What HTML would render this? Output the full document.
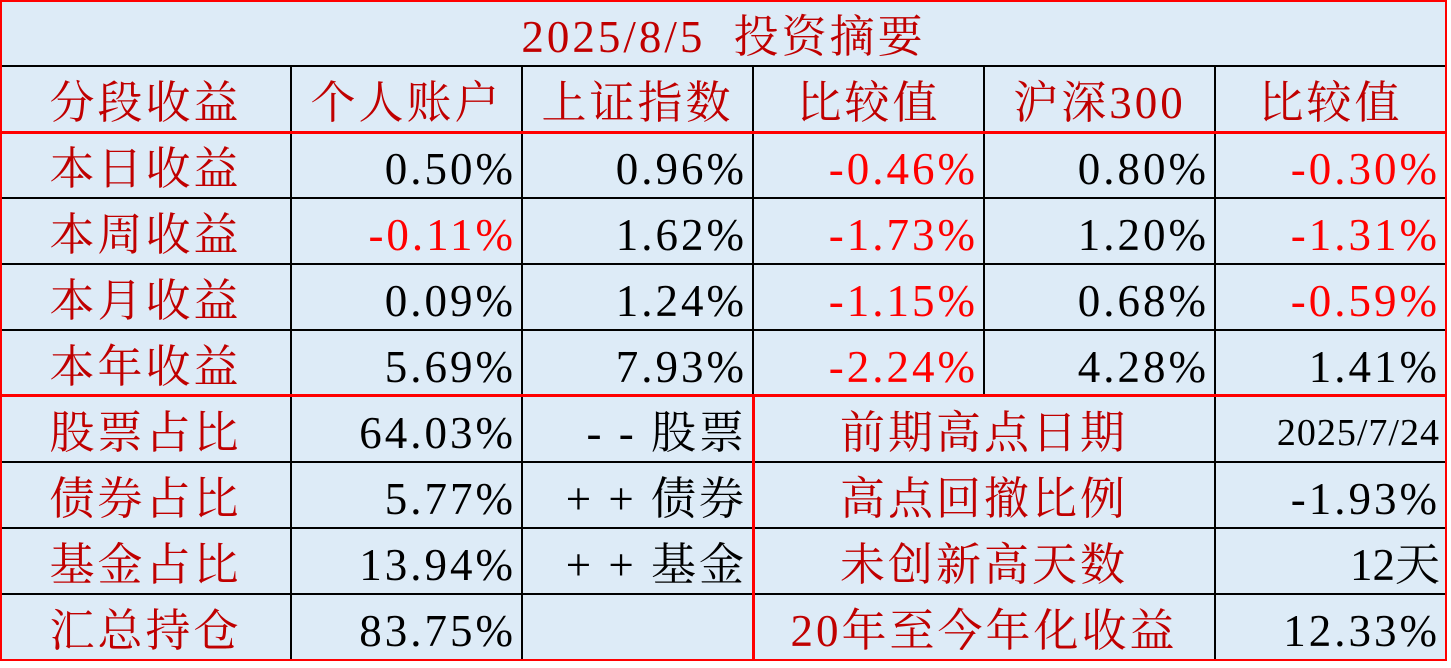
<!DOCTYPE html>
<html><head><meta charset="utf-8"><style>
body{margin:0;width:1451px;height:668px;background:#fff;position:relative;overflow:hidden}
#t{position:absolute;left:0;top:0;width:1447px;height:661px;background:#ddebf7}
.c{position:absolute;height:66px;line-height:74px;font-size:45px;white-space:nowrap;box-sizing:border-box;font-family:"Liberation Serif","Noto Serif CJK SC","Noto Serif CJK JP",serif;letter-spacing:3px}
.l{text-align:center;color:#c00000;letter-spacing:3px}
.r{text-align:right;padding-right:6px;color:#000}
.n{color:#ff0000}
.h{position:absolute;background:#000;height:2px}
.v{position:absolute;background:#000;width:2px}
.R{background:#f00}
</style></head><body><div id="t">
<div class="c l" style="left:0;top:0;width:1447px;word-spacing:14px">2025/8/5 投资摘要</div>
<div class="h" style="left:0;top:65px;width:1447px"></div>
<div class="h" style="left:0;top:197px;width:1447px"></div>
<div class="h" style="left:0;top:263px;width:1447px"></div>
<div class="h" style="left:0;top:329px;width:1447px"></div>
<div class="h" style="left:0;top:461px;width:1447px"></div>
<div class="h" style="left:0;top:527px;width:1447px"></div>
<div class="h" style="left:0;top:593px;width:1447px"></div>
<div class="v" style="left:290px;top:66px;height:595px"></div>
<div class="v" style="left:521px;top:66px;height:595px"></div>
<div class="v" style="left:983px;top:66px;height:330px"></div>
<div class="v" style="left:1214px;top:66px;height:595px"></div>
<div class="v" style="left:752px;top:66px;height:595px;width:2px"></div>
<div class="v R" style="left:752px;top:396px;height:265px;width:3px"></div>
<div class="h R" style="left:0;top:131px;width:1447px;height:3px"></div>
<div class="h R" style="left:0;top:394px;width:1447px;height:3px"></div>
<div class="h R" style="left:0;top:0;width:1447px;height:2px"></div>
<div class="h R" style="left:0;top:659px;width:1447px;height:2px"></div>
<div class="v R" style="left:0;top:0;height:661px"></div>
<div class="v R" style="left:1445px;top:0;height:661px"></div>

<div class="c l" style="left:0;top:66px;width:291px">分段收益</div>
<div class="c l" style="left:291px;top:66px;width:231px">个人账户</div>
<div class="c l" style="left:522px;top:66px;width:231px">上证指数</div>
<div class="c l" style="left:753px;top:66px;width:231px">比较值</div>
<div class="c l" style="left:984px;top:66px;width:231px">沪深300</div>
<div class="c l" style="left:1215px;top:66px;width:231px">比较值</div>

<div class="c l" style="left:0;top:132px;width:291px">本日收益</div>
<div class="c r" style="left:291px;top:132px;width:231px">0.50%</div>
<div class="c r" style="left:522px;top:132px;width:231px">0.96%</div>
<div class="c r n" style="left:753px;top:132px;width:231px">-0.46%</div>
<div class="c r" style="left:984px;top:132px;width:231px">0.80%</div>
<div class="c r n" style="left:1215px;top:132px;width:231px">-0.30%</div>

<div class="c l" style="left:0;top:198px;width:291px">本周收益</div>
<div class="c r n" style="left:291px;top:198px;width:231px">-0.11%</div>
<div class="c r" style="left:522px;top:198px;width:231px">1.62%</div>
<div class="c r n" style="left:753px;top:198px;width:231px">-1.73%</div>
<div class="c r" style="left:984px;top:198px;width:231px">1.20%</div>
<div class="c r n" style="left:1215px;top:198px;width:231px">-1.31%</div>

<div class="c l" style="left:0;top:264px;width:291px">本月收益</div>
<div class="c r" style="left:291px;top:264px;width:231px">0.09%</div>
<div class="c r" style="left:522px;top:264px;width:231px">1.24%</div>
<div class="c r n" style="left:753px;top:264px;width:231px">-1.15%</div>
<div class="c r" style="left:984px;top:264px;width:231px">0.68%</div>
<div class="c r n" style="left:1215px;top:264px;width:231px">-0.59%</div>

<div class="c l" style="left:0;top:330px;width:291px">本年收益</div>
<div class="c r" style="left:291px;top:330px;width:231px">5.69%</div>
<div class="c r" style="left:522px;top:330px;width:231px">7.93%</div>
<div class="c r n" style="left:753px;top:330px;width:231px">-2.24%</div>
<div class="c r" style="left:984px;top:330px;width:231px">4.28%</div>
<div class="c r" style="left:1215px;top:330px;width:231px">1.41%</div>

<div class="c l" style="left:0;top:396px;width:291px">股票占比</div>
<div class="c r" style="left:291px;top:396px;width:231px">64.03%</div>
<div class="c r" style="left:522px;top:396px;width:231px">- - 股票</div>
<div class="c l" style="left:753px;top:396px;width:462px">前期高点日期</div>
<div class="c r" style="left:1215px;top:396px;width:231px;font-size:38px;letter-spacing:1px">2025/7/24</div>

<div class="c l" style="left:0;top:462px;width:291px">债券占比</div>
<div class="c r" style="left:291px;top:462px;width:231px">5.77%</div>
<div class="c r" style="left:522px;top:462px;width:231px">+ + 债券</div>
<div class="c l" style="left:753px;top:462px;width:462px">高点回撤比例</div>
<div class="c r" style="left:1215px;top:462px;width:231px">-1.93%</div>

<div class="c l" style="left:0;top:528px;width:291px">基金占比</div>
<div class="c r" style="left:291px;top:528px;width:231px">13.94%</div>
<div class="c r" style="left:522px;top:528px;width:231px">+ + 基金</div>
<div class="c l" style="left:753px;top:528px;width:462px">未创新高天数</div>
<div class="c r" style="left:1215px;top:528px;width:231px;letter-spacing:0">12天</div>

<div class="c l" style="left:0;top:594px;width:291px">汇总持仓</div>
<div class="c r" style="left:291px;top:594px;width:231px">83.75%</div>
<div class="c l" style="left:753px;top:594px;width:462px">20年至今年化收益</div>
<div class="c r" style="left:1215px;top:594px;width:231px">12.33%</div>
</div></body></html>
